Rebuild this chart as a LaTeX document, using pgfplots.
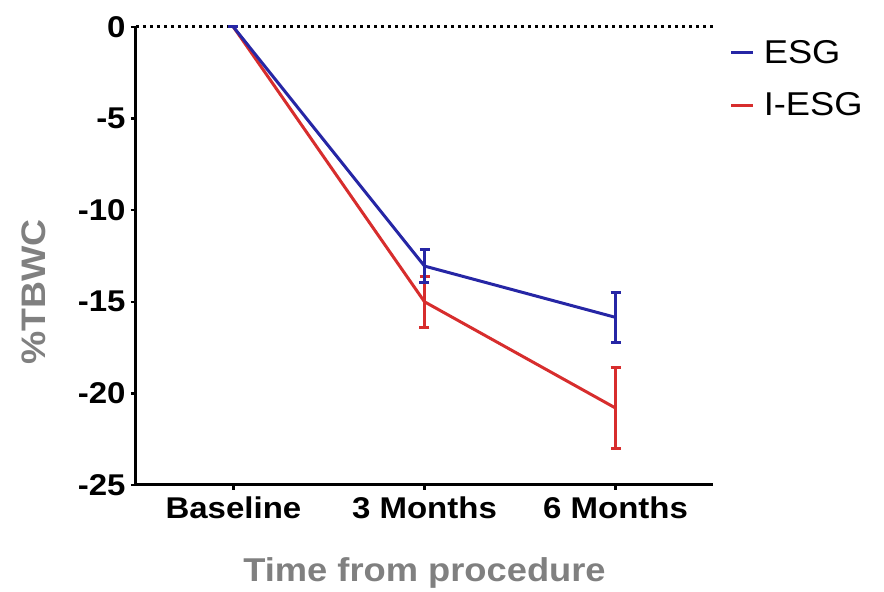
\documentclass[border=0pt]{standalone}
\usepackage{pgfplots}
\pgfplotsset{compat=1.18}
\usepackage{fontspec}
\setmainfont{Liberation Sans}[FakeStretch=1.1]
\definecolor{esg}{RGB}{38,38,165}
\definecolor{iesg}{RGB}{215,45,45}
\definecolor{labgray}{RGB}{128,128,128}
\begin{document}
\begin{tikzpicture}
\path[use as bounding box] (-68pt,-53.5pt) rectangle (374pt,242.5pt);
\begin{axis}[
  at={(0,0)}, anchor=south west,
  scale only axis, width=288.5pt, height=229pt,
  xmin=-0.51, xmax=2.51, ymin=-25, ymax=0,
  clip=false,
  axis x line*=bottom, axis y line*=left,
  axis line style={-, line width=1.5pt, black},
  xtick={0,1,2}, xticklabels={Baseline, 3 Months, 6 Months},
  ytick={-25,-20,-15,-10,-5,0},
  tick align=outside, major tick length=2.5pt,
  tick style={black, line width=1.2pt},
  /pgf/number format/assume math mode=true,
  ticklabel style={font=\fontsize{15}{18}\selectfont\bfseries},
  yticklabel style={inner xsep=2.5pt},
  xlabel={Time from procedure},
  xlabel style={font=\fontsize{16.5}{19}\selectfont\bfseries, text=labgray,
    at={(axis description cs:0.5,0)}, anchor=north, yshift=-33pt},
  ylabel={\%TBWC},
  ylabel style={font=\fontsize{17}{20}\selectfont\bfseries, text=labgray,
    at={(axis description cs:0,0.5)}, anchor=center, xshift=-18pt, yshift=51pt},
  legend style={at={(axis description cs:1.018,0.99)}, anchor=north west, draw=none, fill=none,
    font=\fontsize{16.5}{19}\selectfont, row sep=9pt,
    nodes={inner xsep=4.5pt}},
  legend cell align=left,
  reverse legend,
  legend image code/.code={\draw[#1, line width=1.5pt] (0pt,0pt) -- (11pt,0pt);},
]
\addplot[black, dotted, line width=1.5pt, forget plot] coordinates {(-0.51,0) (2.52,0)};
\addplot[iesg, line width=1.5pt, mark=none,
  error bars/.cd, y dir=both, y explicit,
  error bar style={line width=1.5pt},
  error mark options={rotate=90, mark size=2.5pt, line width=1.5pt}]
  coordinates {(0,0) +- (0,0) (1,-15.0) +- (0,1.4) (2,-20.8) +- (0,2.2)};
\addlegendentry{I-ESG}
\addplot[esg, line width=1.5pt, mark=none,
  error bars/.cd, y dir=both, y explicit,
  error bar style={line width=1.5pt},
  error mark options={rotate=90, mark size=2.5pt, line width=1.5pt}]
  coordinates {(0,0) +- (0,0) (1,-13.05) +- (0,0.9) (2,-15.85) +- (0,1.35)};
\addlegendentry{ESG}
\end{axis}
\end{tikzpicture}
\end{document}
